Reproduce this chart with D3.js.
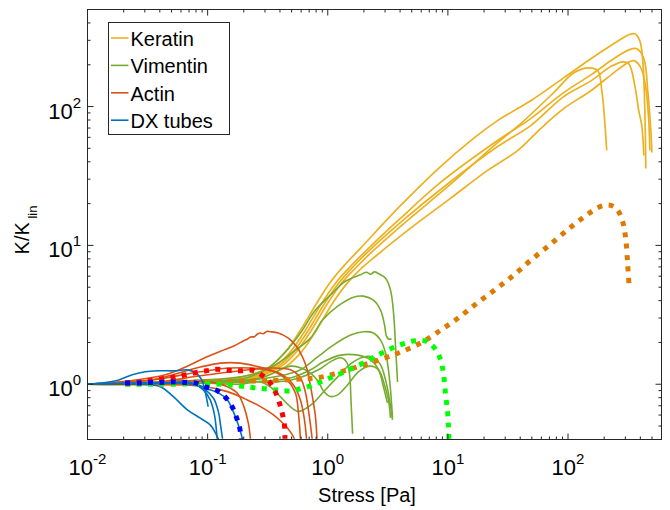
<!DOCTYPE html>
<html><head><meta charset="utf-8">
<script src="https://cdn.jsdelivr.net/npm/d3@7"></script>
<style>body{margin:0;background:#fff} svg{display:block} text{font-family:"Liberation Sans",Arial,Helvetica,sans-serif;fill:#000}</style>
</head><body><svg id="c" width="670" height="510"></svg>
<script>
// ---------- data: [stress (Pa), K/K_lin] ----------
const keratin1 = [[0.01,1.0],[0.087,1.02],[0.227,1.17],[0.333,1.35],[0.444,1.71],[0.592,2.45],[0.790,3.71],[1.05,5.43],[1.40,7.31],[1.87,9.53],[4.04,19.4],[8.69,37.0],[15.5,56.9],[25.9,79.2],[48.9,110],[92.0,161],[155,221],[240,283],[321,329],[360,334],[396,297],[419,214],[436,93.4],[444,35.8]];
const keratin2 = [[0.01,1.0],[0.087,1.02],[0.250,1.15],[0.366,1.35],[0.489,1.71],[0.651,2.45],[0.869,3.71],[1.16,5.34],[1.55,7.08],[2.06,9.07],[4.04,15.7],[8.69,28.4],[25.9,56.9],[48.9,81.8],[92.0,126],[155,169],[240,221],[321,256],[374,261],[428,221],[461,130],[489,67.1],[499,46.7]];
const keratin3 = [[0.01,1.0],[0.087,1.02],[0.265,1.15],[0.388,1.35],[0.518,1.71],[0.690,2.45],[0.920,3.71],[1.23,5.34],[1.64,7.08],[2.18,9.07],[4.44,15.7],[9.57,27.0],[25.9,51.5],[48.9,72.9],[92.0,118],[155,153],[227,194],[286,210],[321,203],[360,141],[388,93.4],[411,72.9],[428,44.4]];
const keratin4 = [[0.01,1.0],[0.087,1.02],[0.275,1.15],[0.411,1.35],[0.548,1.71],[0.731,2.45],[0.975,3.71],[1.30,5.34],[1.73,6.96],[2.27,8.78],[4.44,14.7],[9.57,25.7],[25.9,55.0],[40.4,75.4],[76.0,126],[112,175],[149,190],[177,181],[191,130],[199,93.4],[210,48.2]];
const keratin5 = [[0.01,1.0],[0.087,1.02],[0.291,1.13],[0.453,1.35],[0.604,1.71],[0.805,2.45],[1.07,3.71],[1.43,5.26],[1.91,6.85],[2.50,8.35],[4.89,13.3],[10.5,21.8],[21.4,34.7],[38.1,48.2],[59.2,69.4],[92.0,96.6],[155,130],[240,175],[314,207],[353,214],[404,190],[444,137],[470,79.0],[480,48.2]];

const vimentin1 = [[0.01,1.0],[0.0869,1.07],[0.187,1.13],[0.303,1.27],[0.444,1.71],[0.592,2.34],[0.790,3.42],[1.05,4.38],[1.40,5.52],[1.87,6.15],[2.10,6.40],[2.27,6.20],[2.45,6.45],[2.65,6.25],[3.03,5.80],[3.33,4.76],[3.53,3.25],[3.67,1.85],[3.81,1.04]];
const vimentin2 = [[0.01,1.0],[0.0869,1.06],[0.206,1.11],[0.366,1.38],[0.538,1.76],[0.718,2.15],[0.904,2.90],[1.21,3.65],[1.64,4.24],[1.98,4.31],[2.40,4.03],[2.75,3.42],[2.97,2.67],[3.08,2.22],[3.20,2.12],[3.40,2.12]];
const vimentin3 = [[0.01,1.0],[0.0869,1.02],[0.227,1.07],[0.404,1.15],[0.592,1.27],[0.820,1.57],[1.12,1.92],[1.55,2.26],[1.98,2.39],[2.40,2.34],[2.75,2.08],[3.03,1.68],[3.20,1.27],[3.33,0.910],[3.46,0.573]];
const vimentin4 = [[0.01,1.0],[0.0869,1.02],[0.227,1.04],[0.489,1.11],[0.718,1.27],[0.920,1.45],[1.28,1.62],[1.77,1.62],[2.27,1.50],[2.65,1.27],[2.91,0.956],[3.14,0.734]];
const vimentin5 = [[0.01,1.0],[0.0869,1.02],[0.187,1.0],[0.275,1.04],[0.333,0.956],[0.404,0.811],[0.489,0.687],[0.560,0.638],[0.627,0.654],[0.760,0.734],[0.920,0.880],[1.21,1.13],[1.55,1.40],[1.98,1.57],[2.36,1.57],[2.75,1.38],[3.03,1.07],[3.27,0.771],[3.46,0.554]];
const vimentin6 = [[0.01,1.0],[0.0869,1.02],[0.227,1.04],[0.489,1.07],[0.837,1.27],[1.05,1.45],[1.28,1.55],[1.43,1.45],[1.52,1.17],[1.56,0.771],[1.61,0.440]];
const vimentin7 = [[0.01,1.0],[0.0869,1.04],[0.275,1.11],[0.489,1.35],[0.651,1.27],[0.820,1.07],[0.920,0.895],[1.05,0.817],[1.21,0.838],[1.46,0.988],[1.80,1.23],[2.27,1.35],[2.65,1.27],[2.97,0.988],[3.20,0.771],[3.33,0.573]];

const actin1 = [[0.01,1.0],[0.0227,1.06],[0.0444,1.17],[0.0718,1.38],[0.0975,1.57],[0.128,1.73],[0.164,1.88],[0.198,2.05],[0.215,2.12],[0.227,2.19],[0.245,2.20],[0.260,2.30],[0.275,2.34],[0.290,2.31],[0.310,2.40],[0.333,2.39],[0.388,2.34],[0.470,2.15],[0.548,1.88],[0.627,1.52],[0.678,1.25],[0.718,0.972],[0.760,0.734],[0.790,0.582],[0.813,0.405]];
const actin2 = [[0.01,1.0],[0.0333,1.07],[0.0869,1.33],[0.128,1.42],[0.187,1.42],[0.259,1.34],[0.353,1.24],[0.461,1.07],[0.538,0.866],[0.570,0.622],[0.592,0.405]];
const actin3 = [[0.01,1.0],[0.0333,1.02],[0.0652,1.06],[0.105,1.04],[0.146,0.961],[0.177,0.862],[0.198,0.710],[0.218,0.527],[0.227,0.405]];
const actin4 = [[0.01,1.0],[0.0333,1.02],[0.0869,1.15],[0.187,1.25],[0.333,1.31],[0.489,1.27],[0.592,1.11],[0.651,0.880],[0.690,0.654],[0.718,0.510],[0.741,0.405]];
const actin5 = [[0.01,1.0],[0.0333,1.0],[0.0869,0.972],[0.146,0.885],[0.214,0.771],[0.275,0.690],[0.353,0.602],[0.428,0.519],[0.489,0.454],[0.528,0.405]];
const actin6 = [[0.01,1.0],[0.0333,1.07],[0.0869,1.23],[0.155,1.31],[0.275,1.29],[0.404,1.19],[0.518,0.988],[0.592,0.771],[0.640,0.554],[0.665,0.405]];

const dx1 = [[0.01,1.0],[0.0140,1.03],[0.0180,1.07],[0.0236,1.17],[0.0303,1.23],[0.0388,1.25],[0.0538,1.25],[0.0678,1.27],[0.0790,1.21],[0.0886,1.09],[0.0939,0.941],[0.0975,0.811],[0.101,0.690]];
const dx2 = [[0.01,1.0],[0.0275,1.02],[0.0489,1.02],[0.0652,1.04],[0.0790,1.0],[0.0921,0.910],[0.105,0.771],[0.114,0.602],[0.120,0.405]];
const dx3 = [[0.01,1.0],[0.0333,1.02],[0.0592,1.02],[0.0790,0.988],[0.0957,0.910],[0.112,0.793],[0.123,0.632],[0.128,0.510],[0.133,0.405]];
const dx4 = [[0.01,1.0],[0.0275,1.0],[0.0404,0.961],[0.0518,0.814],[0.0678,0.654],[0.0869,0.570],[0.105,0.510],[0.116,0.447],[0.123,0.403]];
const dx5 = [[0.01,1.0],[0.0404,1.02],[0.0790,1.0],[0.0994,0.925],[0.123,0.866],[0.146,0.771],[0.164,0.632],[0.180,0.510],[0.195,0.405]];

const modelOrange = [[0.0206,1.02],[0.0869,1.04],[0.303,1.06],[0.592,1.09],[0.904,1.13],[1.46,1.27],[2.40,1.45],[3.88,1.68],[5.92,1.98],[8.69,2.45],[12.3,3.02],[17.3,3.81],[25.0,4.84],[35.3,6.10],[48.9,7.81],[69.0,9.94],[97.5,12.8],[138,16.2],[187,19.1],[227,19.4],[259,17.9],[286,14.7],[303,10.9],[314,7.19],[324,4.84]];
const modelGreen = [[0.0206,1.0],[0.0489,1.0],[0.0994,1.01],[0.155,0.988],[0.240,0.945],[0.374,0.910],[0.489,0.895],[0.581,0.925],[0.718,0.972],[0.869,1.04],[1.07,1.12],[1.33,1.21],[1.64,1.32],[1.98,1.42],[2.40,1.56],[2.91,1.70],[3.53,1.84],[4.36,1.97],[5.38,2.06],[6.65,2.03],[7.75,1.82],[8.69,1.50],[9.21,1.17],[9.57,0.838],[9.94,0.632],[10.1,0.510],[10.2,0.405]];
const modelRed = [[0.0206,1.02],[0.0259,1.03],[0.0321,1.06],[0.0404,1.09],[0.0508,1.12],[0.0627,1.16],[0.0790,1.21],[0.0975,1.25],[0.120,1.28],[0.152,1.26],[0.187,1.25],[0.236,1.26],[0.280,1.17],[0.327,1.04],[0.366,0.880],[0.396,0.734],[0.419,0.612],[0.436,0.510],[0.440,0.405]];
const modelBlue = [[0.0206,1.02],[0.0264,1.02],[0.0327,1.03],[0.0411,1.03],[0.0508,1.04],[0.0640,1.03],[0.0790,1.02],[0.0975,0.952],[0.120,0.900],[0.143,0.793],[0.161,0.681],[0.173,0.582],[0.184,0.494],[0.191,0.405]];

const legendLabels = ["Keratin","Vimentin","Actin","DX tubes"];
const xTickValues = [0.01,0.1,1,10,100];
const xTickExp = ["-2","-1","0","1","2"];
const yTickValues = [1,10,100];
const yTickExp = ["0","1","2"];

// ---------- styles ----------
const C = {keratin:"#EDB120", vimentin:"#77AC30", actin:"#D95319", dx:"#0072BD",
           mOrange:"#DF7A00", mGreen:"#00FF00", mRed:"#FF0000", mBlue:"#0000FF"};

const W=670,H=510, L=87.5, R=661.5, T=9.5, B=439.5;
const x=d3.scaleLog().domain([0.01,600]).range([L,R]);
const y=d3.scaleLog().domain([0.4,500]).range([B,T]);

const svg=d3.select('#c');
svg.append('rect').attr('width',W).attr('height',H).attr('fill','#fff');
svg.append('defs').append('clipPath').attr('id','clip').append('rect')
   .attr('x',L).attr('y',T).attr('width',R-L).attr('height',B-T);

const line=d3.line().x(d=>x(d[0])).y(d=>y(d[1])).curve(d3.curveCatmullRom.alpha(0.5));
const g=svg.append('g').attr('clip-path','url(#clip)');
function draw(curves,color,w,dash){
  curves.forEach(c=>g.append('path').datum(c).attr('d',line).attr('fill','none')
    .attr('stroke',color).attr('stroke-width',w)
    .attr('stroke-dasharray',dash||null).attr('stroke-linejoin','round'));
}
draw([keratin1,keratin2,keratin3,keratin4,keratin5],C.keratin,1.7);
draw([vimentin1,vimentin2,vimentin3,vimentin4,vimentin5,vimentin6,vimentin7],C.vimentin,1.6);
draw([actin1,actin2,actin3,actin4,actin5,actin6],C.actin,1.6);
draw([dx1,dx2,dx3,dx4,dx5],C.dx,1.6);
draw([modelOrange],C.mOrange,5,"5,6.4");
draw([modelGreen],C.mGreen,5,"5,6.4");
draw([modelRed],C.mRed,5,"5,6.4");
draw([modelBlue],C.mBlue,5,"5,6.4");

// ---------- axes ----------
const xMinor=[]; for(let e=-2;e<=2;e++) for(let k=2;k<=9;k++){const v=k*Math.pow(10,e); if(v<=600) xMinor.push(v);}
const yMinor=[]; for(let e=-1;e<=2;e++) for(let k=2;k<=9;k++){const v=k*Math.pow(10,e); if(v>=0.4&&v<=500) yMinor.push(v);}
function ax(gen,scale,vals,size,tx,ty){
  const a=svg.append('g').attr('transform',`translate(${tx},${ty})`)
    .call(gen(scale).tickValues(vals).tickSize(size).tickFormat('').offset(0));
  a.select('.domain').remove();
  a.selectAll('line').attr('stroke','#262626').attr('stroke-width',1);
}
ax(d3.axisBottom,x,xTickValues,-6,0,B); ax(d3.axisBottom,x,xMinor,-3,0,B);
ax(d3.axisTop,x,xTickValues,-6,0,T);    ax(d3.axisTop,x,xMinor,-3,0,T);
ax(d3.axisLeft,y,yTickValues,-6,L,0);   ax(d3.axisLeft,y,yMinor,-3,L,0);
ax(d3.axisRight,y,yTickValues,-6,R,0);  ax(d3.axisRight,y,yMinor,-3,R,0);
svg.append('rect').attr('x',L).attr('y',T).attr('width',R-L).attr('height',B-T)
   .attr('fill','none').attr('stroke','#262626').attr('stroke-width',1);

// tick labels
xTickValues.forEach((v,i)=>{
  const t=svg.append('text').attr('x',x(v)).attr('y',475).attr('text-anchor','middle').attr('font-size',22);
  t.append('tspan').text('10');
  t.append('tspan').attr('dy',-11).attr('font-size',15).text(xTickExp[i]);
});
yTickValues.forEach((v,i)=>{
  const t=svg.append('text').attr('x',81).attr('y',y(v)+12).attr('text-anchor','end').attr('font-size',22);
  t.append('tspan').text('10');
  t.append('tspan').attr('dy',-11).attr('font-size',15).text(yTickExp[i]);
});

// axis labels
svg.append('text').attr('x',367).attr('y',502).attr('text-anchor','middle').attr('font-size',20).text('Stress [Pa]');
const yl=svg.append('text').attr('transform','translate(28.5,230) rotate(-90)').attr('text-anchor','middle').attr('font-size',20);
yl.append('tspan').text('K/K');
yl.append('tspan').attr('dy',8).attr('font-size',13).text(' lin');

// legend
const lg=svg.append('g');
lg.append('rect').attr('x',108.5).attr('y',22.5).attr('width',121).attr('height',112)
  .attr('fill','#fff').attr('stroke','#262626').attr('stroke-width',1);
const lc=[C.keratin,C.vimentin,C.actin,C.dx];
legendLabels.forEach((s,i)=>{
  const by=46+i*27.4;
  lg.append('line').attr('x1',111).attr('x2',128.5).attr('y1',by-8).attr('y2',by-8)
    .attr('stroke',lc[i]).attr('stroke-width',1.6);
  lg.append('text').attr('x',130.5).attr('y',by).attr('font-size',20).text(s);
});
</script></body></html>
